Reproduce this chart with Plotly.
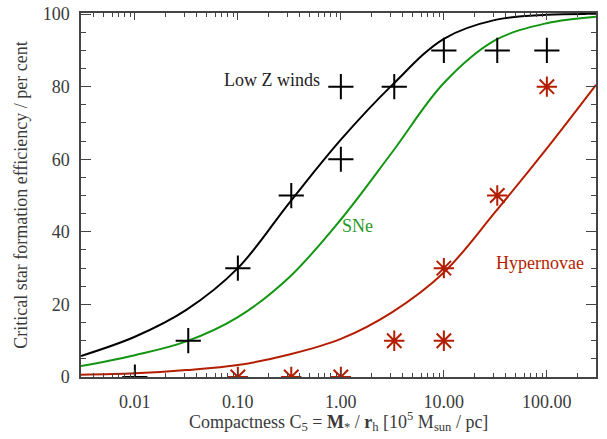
import numpy as np
import plotly.graph_objects as go

# Model curves (at half-decade steps)
lowz_curve_x = [0.003, 0.01, 0.0316, 0.1, 0.316, 1.0, 3.16, 10, 31.6, 100, 300]
lowz_curve_y = [5.8, 11.1, 18.5, 30, 48, 65.4, 80.5, 93.2, 98.4, 99.8, 100]

sne_curve_x = [0.003, 0.01, 0.0316, 0.1, 0.316, 1.0, 3.16, 10, 31.6, 100, 300]
sne_curve_y = [3.0, 6.0, 9.8, 16.5, 27.5, 43.4, 62, 81, 92.8, 97.5, 99.3]

hn_curve_x = [0.003, 0.01, 0.0316, 0.1, 0.316, 1.0, 3.16, 10, 31.6, 100, 300]
hn_curve_y = [0.6, 1.0, 1.9, 3.3, 6.2, 10.5, 17.9, 28.8, 45.5, 63, 80.5]

# Simulation points
lowz_pts_x = [0.01, 0.033, 0.1, 0.33, 1, 1, 3.3, 10, 33, 100]
lowz_pts_y = [0, 10, 30, 50, 60, 80, 80, 90, 90, 90]

hn_pts_x = [0.1, 0.33, 1, 3.3, 10, 10, 33, 100]
hn_pts_y = [0, 0, 0, 10, 10, 30, 50, 80]

x_tickvals = [0.01, 0.1, 1, 10, 100]
x_ticktext = ["0.01", "0.10", "1.00", "10.00", "100.00"]
y_tickvals = [0, 20, 40, 60, 80, 100]

BLACK = "#000000"
GREEN = "#129612"
RED = "#b41e00"
TXT = "#3a3a3a"
FONT = "Liberation Serif"

fig = go.Figure()
fig.add_trace(go.Scatter(x=lowz_curve_x, y=lowz_curve_y, mode="lines",
                         line=dict(color=BLACK, width=2, shape="spline", smoothing=1),
                         showlegend=False))
fig.add_trace(go.Scatter(x=sne_curve_x, y=sne_curve_y, mode="lines",
                         line=dict(color=GREEN, width=2, shape="spline", smoothing=1),
                         showlegend=False))
fig.add_trace(go.Scatter(x=hn_curve_x, y=hn_curve_y, mode="lines",
                         line=dict(color=RED, width=2, shape="spline", smoothing=1),
                         showlegend=False))
fig.add_trace(go.Scatter(x=lowz_pts_x, y=lowz_pts_y, mode="markers",
                         marker=dict(symbol="cross-thin-open", size=18, color=BLACK,
                                     line=dict(color=BLACK, width=2)),
                         cliponaxis=True, showlegend=False))
fig.add_trace(go.Scatter(x=hn_pts_x, y=hn_pts_y, mode="markers",
                         marker=dict(symbol="asterisk-open", size=17, color=RED,
                                     line=dict(color=RED, width=2)),
                         cliponaxis=True, showlegend=False))

minor_vals = [k * 10.0 ** e for e in range(-3, 3) for k in range(2, 10)]

fig.update_xaxes(type="log", range=[np.log10(0.003), np.log10(300)],
                 tickvals=x_tickvals, ticktext=x_ticktext,
                 ticks="inside", ticklen=7, tickwidth=1, tickcolor="#444",
                 showline=True, linecolor="#444", linewidth=1.5, mirror="ticks",
                 showgrid=False, zeroline=False,
                 minor=dict(tickvals=minor_vals, ticks="inside", ticklen=4,
                            tickcolor="#444", showgrid=False),
                 tickfont=dict(family=FONT, size=18, color=TXT),
                 ticklabelstandoff=8)
fig.update_yaxes(range=[0, 100.3], tickvals=y_tickvals,
                 ticks="inside", ticklen=10, tickwidth=1, tickcolor="#444",
                 showline=True, linecolor="#444", linewidth=1.5, mirror="ticks",
                 showgrid=False, zeroline=False,
                 minor=dict(dtick=5, ticks="inside", ticklen=5, tickcolor="#444", showgrid=False),
                 tickfont=dict(family=FONT, size=18, color=TXT),
                 ticklabelstandoff=6,
                 title=dict(text="Critical star formation efficiency / per cent",
                            font=dict(family=FONT, size=18, color=TXT), standoff=10))

fig.add_annotation(xref="paper", yref="paper", x=0.5, y=-0.123,
                   text="Compactness C<sub>5</sub> = <b>M</b><sub>*</sub> / <b>r</b><sub>h</sub> [10<sup>5</sup> M<sub>sun</sub> / pc]",
                   showarrow=False, xanchor="center", yanchor="middle",
                   font=dict(family=FONT, size=18, color=TXT))

fig.add_annotation(x=np.log10(0.216), y=81.9, text="Low Z winds", showarrow=False,
                   font=dict(family=FONT, size=18, color="#222"), xanchor="center", yanchor="middle")
fig.add_annotation(x=np.log10(1.44), y=41.7, text="SNe", showarrow=False,
                   font=dict(family=FONT, size=18, color="#2a9a2a"), xanchor="center", yanchor="middle")
fig.add_annotation(x=np.log10(85), y=31.5, text="Hypernovae", showarrow=False,
                   font=dict(family=FONT, size=18, color=RED), xanchor="center", yanchor="middle")

fig.update_layout(width=607, height=439,
                  margin=dict(l=81, r=11, t=13, b=62, autoexpand=False),
                  plot_bgcolor="white", paper_bgcolor="white",
                  font=dict(family=FONT, size=18, color=TXT))

fig.write_html("out.html", config={"displayModeBar": False},
               post_script="document.body.style.margin='0';document.body.style.overflow='hidden';")
